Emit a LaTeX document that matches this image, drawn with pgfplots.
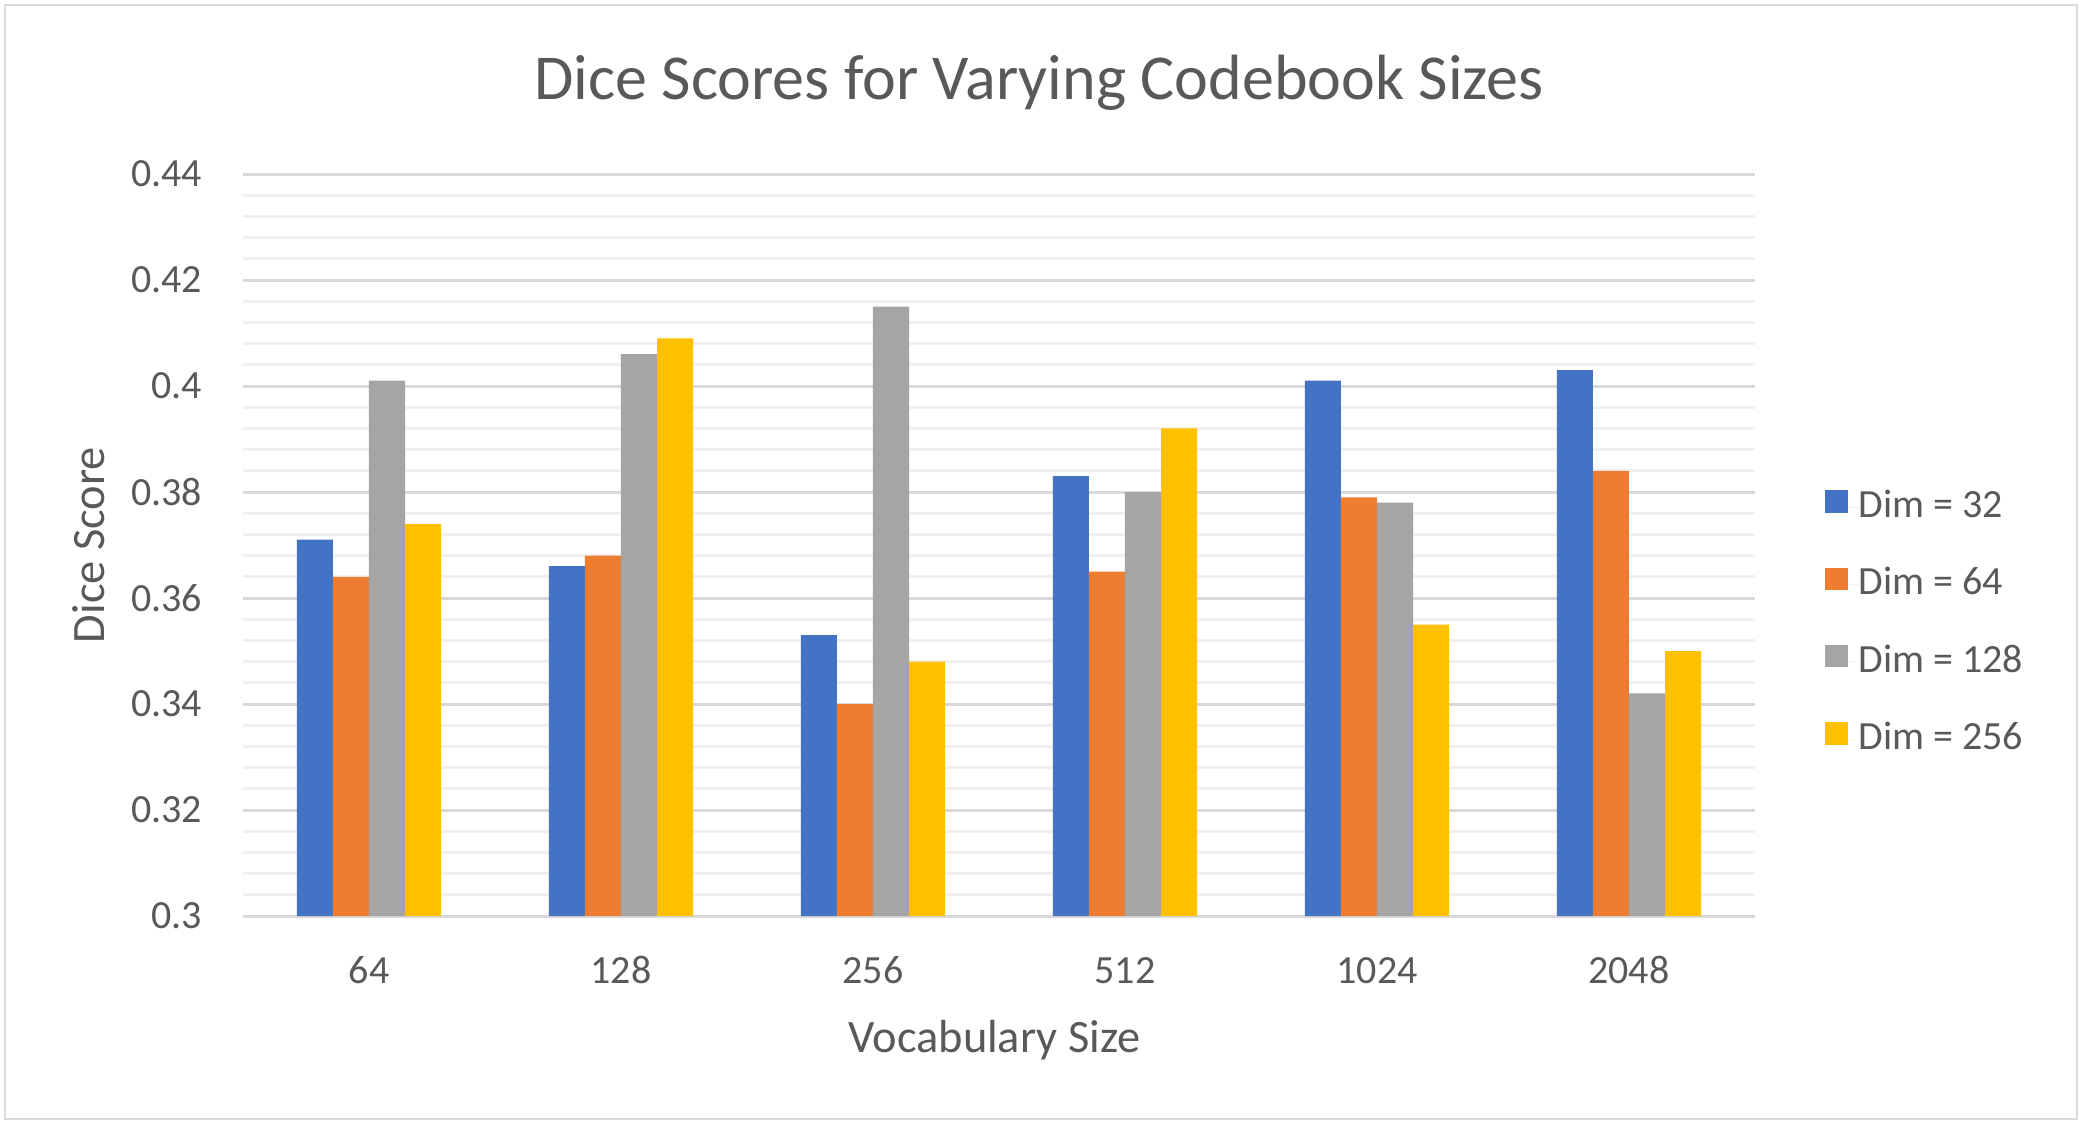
\documentclass[border=0pt]{standalone}
\usepackage{fontspec}
\setmainfont{Carlito}
\usepackage{pgfplots}
\pgfplotsset{compat=1.18}
\definecolor{c1}{HTML}{4472C4}
\definecolor{c2}{HTML}{ED7D31}
\definecolor{c3}{HTML}{A5A5A5}
\definecolor{c4}{HTML}{FFC000}
\definecolor{txt}{HTML}{595959}
\definecolor{majgrid}{HTML}{D9D9D9}
\definecolor{mingrid}{HTML}{F0F0F0}
\definecolor{frame}{HTML}{D9D9D9}
\begin{document}
\begin{tikzpicture}[x=1pt,y=1pt]
\useasboundingbox (0,0) rectangle (520,281.75);
\fill[white] (0,0) rectangle (520,281.75);
\draw[frame, line width=0.6pt] (1.25,2) rectangle (519.25,280.5);
\begin{axis}[
  at={(60.75pt,52.75pt)}, anchor=south west,
  scale only axis, width=378pt, height=185.5pt,
  xmin=-0.5, xmax=5.5, ymin=0.3, ymax=0.44,
  ybar=0pt, bar width=0.143,
  xtick={0,1,2,3,4,5},
  xticklabels={64,128,256,512,1024,2048},
  ytick={0.3,0.32,0.34,0.36,0.38,0.4,0.42,0.44},
  yticklabels={0.3,0.32,0.34,0.36,0.38,0.4,0.42,0.44},
  minor y tick num=4,
  ymajorgrids, yminorgrids,
  major grid style={draw=majgrid, line width=0.75pt},
  minor grid style={draw=mingrid, line width=0.75pt},
  axis line style={draw=none},
  major tick length=0pt, minor tick length=0pt,
  tick style={draw=none},
  xticklabel style={anchor=base, inner sep=0pt, yshift=-16.75pt, font=\fontsize{10}{12}\selectfont, text=txt},
  yticklabel style={anchor=east, inner sep=0pt, xshift=-10pt, font=\fontsize{10}{12}\selectfont, text=txt},
  title={Dice Scores for Varying Codebook Sizes},
  title style={at={(axis description cs:0.5265,1)}, anchor=base, yshift=12.75pt, inner sep=0pt, font=\fontsize{16}{19}\selectfont, text=txt},
  xlabel={Vocabulary Size},
  xlabel style={at={(axis description cs:0.497,0)}, anchor=base, yshift=-34pt, inner sep=0pt, font=\fontsize{11.6}{14}\selectfont, text=txt},
  ylabel={Dice Score},
  ylabel style={at={(axis description cs:-0.0913,0.5)}, anchor=base, rotate=0, inner sep=0pt, font=\fontsize{11.6}{14}\selectfont, text=txt},
  legend cell align=left,
  legend image code/.code={\fill[#1] (0pt,-1.5pt) rectangle (5.65pt,4.15pt); \path (0pt,0pt) rectangle (8.4pt,0pt);},
  legend style={at={(axis description cs:1.0463,0.574)}, anchor=north west, draw=none, fill=none, inner sep=0pt, outer sep=0pt, row sep=10.95pt, font=\fontsize{10}{12}\selectfont, text=txt, nodes={inner sep=0pt}},
]
\addplot[fill=c1, draw=none] coordinates {(0,0.371) (1,0.366) (2,0.353) (3,0.383) (4,0.401) (5,0.403)};
\addlegendentry{Dim = 32}
\addplot[fill=c2, draw=none] coordinates {(0,0.364) (1,0.368) (2,0.340) (3,0.365) (4,0.379) (5,0.384)};
\addlegendentry{Dim = 64}
\addplot[fill=c3, draw=none] coordinates {(0,0.401) (1,0.406) (2,0.415) (3,0.380) (4,0.378) (5,0.342)};
\addlegendentry{Dim = 128}
\addplot[fill=c4, draw=none] coordinates {(0,0.374) (1,0.409) (2,0.348) (3,0.392) (4,0.355) (5,0.350)};
\addlegendentry{Dim = 256}
\end{axis}
\end{tikzpicture}
\end{document}
